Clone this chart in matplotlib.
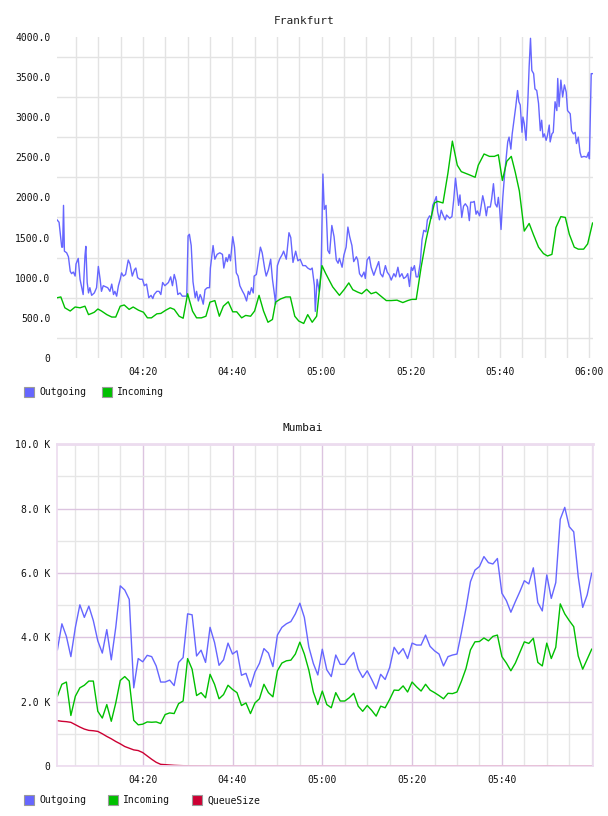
import matplotlib
matplotlib.use('Agg')
import matplotlib.pyplot as plt
import matplotlib.dates as mdates
from matplotlib.patches import Rectangle
from matplotlib.ticker import FixedLocator, FuncFormatter
import pandas as pd

# Frankfurt, minutes after 04:00
fra_out_min = [0.75, 1.2, 1.8, 2.0, 2.2, 2.4, 2.9, 3.3, 3.7, 4.0, 4.4, 4.8, 5.0, 5.5, 5.9, 6.3, 6.6, 7.0, 7.2, 7.5,
               7.8, 8.1, 8.5, 9.1, 9.6, 10.0, 10.4, 10.7, 11.1, 11.5, 12.1, 12.6, 13.0, 13.4, 13.7, 14.1, 14.5, 14.9, 15.2, 15.6,
               16.1, 16.7, 17.1, 17.6, 18.1, 18.4, 18.8, 19.3, 19.9, 20.3, 20.8, 21.3, 21.8, 22.2, 22.5, 23.1, 23.6, 24.0, 24.4, 24.9,
               25.3, 25.7, 26.2, 26.6, 27.0, 27.4, 27.8, 28.3, 28.8, 29.4, 29.8, 30.1, 30.4, 30.8, 31.2, 31.7, 32.0, 32.4, 32.8, 33.1,
               33.5, 33.9, 34.4, 34.9, 35.1, 35.7, 36.1, 36.6, 37.2, 37.8, 38.1, 38.6, 38.9, 39.3, 39.6, 40.1, 40.5, 40.9, 41.3, 41.7,
               42.3, 42.7, 43.2, 43.6, 43.9, 44.3, 44.7, 44.9, 45.4, 45.8, 46.3, 46.7, 47.3, 47.6, 48.1, 48.6, 49.0, 49.5, 49.7, 50.1,
               50.6, 51.2, 51.5, 52.1, 52.7, 53.1, 53.6, 54.2, 54.7, 55.2, 55.8, 56.4, 56.9, 57.5, 57.9, 58.4, 58.6, 59.0, 59.5, 59.9,
               60.3, 60.6, 61.0, 61.4, 61.8, 62.3, 62.8, 63.3, 63.7, 64.0, 64.6, 65.0, 65.5, 65.9, 66.3, 66.8, 67.2, 67.8, 68.1, 68.5,
               69.0, 69.5, 69.8, 70.2, 70.7, 71.1, 71.7, 72.2, 72.8, 73.2, 73.7, 74.3, 74.7, 75.2, 75.6, 76.2, 76.6, 77.1, 77.5, 78.0,
               78.4, 78.9, 79.3, 79.7, 80.1, 80.4, 80.8, 81.2, 81.6, 82.1, 82.5, 82.9, 83.4, 83.7, 84.2, 84.6, 84.9, 85.3, 85.7, 86.0,
               86.4, 86.8, 87.2, 87.7, 88.0, 88.7, 89.2, 89.6, 90.0, 90.4, 90.7, 91.0, 91.4, 91.8, 92.2, 92.7, 93.1, 93.4, 93.9, 94.2,
               94.6, 94.9, 95.4, 95.7, 96.1, 96.5, 96.9, 97.2, 97.8, 98.1, 98.5, 98.9, 99.3, 99.6, 99.9, 100.2, 100.6, 101.0, 101.3, 101.7,
               102.0, 102.4, 102.7, 103.1, 103.5, 103.9, 104.2, 104.5, 104.9, 105.1, 105.4, 105.8, 106.2, 106.5, 106.8, 107.1, 107.5, 107.8, 108.2, 108.6,
               109.0, 109.3, 109.6, 109.9, 110.3, 110.6, 111.0, 111.2, 111.6, 111.9, 112.3, 112.7, 112.9, 113.2, 113.6, 114.0, 114.4, 114.8, 115.1, 115.7,
               116.0, 116.4, 116.8, 117.1, 117.5, 117.9, 118.2, 118.8, 119.4, 119.8, 120.0, 120.4, 120.7]
fra_outgoing = [1720, 1690, 1380, 1380, 1900, 1330, 1310, 1260, 1080, 1050, 1070, 1020, 1170, 1240, 980, 875, 790, 1270, 1390, 940,
                810, 875, 780, 810, 875, 1140, 980, 830, 900, 890, 875, 830, 920, 790, 830, 770, 900, 980, 1060, 1020,
                1040, 1220, 1170, 1020, 1100, 1120, 1000, 980, 980, 900, 920, 750, 780, 740, 790, 830, 830, 790, 940, 900,
                920, 940, 1010, 900, 1040, 960, 790, 810, 770, 770, 770, 1520, 1540, 1400, 950, 750, 830, 710, 790, 750,
                670, 850, 875, 875, 1120, 1400, 1230, 1290, 1310, 1290, 1120, 1250, 1200, 1290, 1210, 1510, 1380, 1060, 1020, 900,
                830, 790, 710, 830, 790, 875, 810, 1020, 1040, 1190, 1380, 1310, 1100, 1020, 1100, 1230, 980, 770, 670, 1150,
                1230, 1290, 1330, 1230, 1560, 1500, 1190, 1330, 1210, 1230, 1150, 1150, 1120, 1100, 1120, 900, 580, 980, 830, 1100,
                2290, 1850, 1900, 1340, 1300, 1650, 1510, 1220, 1180, 1240, 1130, 1280, 1380, 1630, 1510, 1400, 1200, 1260, 1220, 1050,
                1010, 1070, 990, 1220, 1260, 1130, 1030, 1110, 1200, 1050, 1010, 1150, 1070, 1030, 970, 1050, 1010, 1130, 1010, 1050,
                990, 1010, 1050, 890, 1130, 1090, 1150, 1010, 1010, 1180, 1470, 1590, 1570, 1720, 1770, 1740, 1900, 1950, 2010, 1820,
                1720, 1840, 1780, 1720, 1780, 1740, 1760, 1970, 2240, 2050, 1900, 2030, 1750, 1890, 1920, 1880, 1710, 1940, 1940, 1950,
                1790, 1830, 1770, 1880, 2020, 1920, 1770, 1880, 1880, 1980, 2170, 1920, 1880, 2000, 1850, 1600, 2000, 2290, 2460, 2690,
                2750, 2600, 2790, 2960, 3130, 3330, 3190, 3150, 2810, 3000, 2920, 2710, 3190, 3630, 3980, 3580, 3540, 3350, 3330, 3170,
                2830, 2960, 2750, 2790, 2710, 2770, 2900, 2690, 2790, 2810, 3190, 3080, 3480, 3130, 3460, 3250, 3400, 3310, 3080, 3040,
                2830, 2790, 2810, 2670, 2750, 2560, 2500, 2510, 2500, 2560, 2480, 3540, 3540]

fra_in_min = [0.75, 1.6, 2.5, 3.7, 4.8, 5.9, 7.0, 7.8, 8.5, 9.1, 9.9, 10.7, 11.9, 13.0, 13.9, 14.9, 15.8, 16.9, 17.8, 19.0,
              20.1, 21.0, 21.9, 23.1, 24.0, 25.1, 26.1, 27.0, 28.1, 29.0, 30.0, 30.5, 31.1, 32.0, 33.1, 34.1, 35.0, 36.1, 37.1, 38.0,
              39.1, 40.1, 41.0, 42.1, 43.0, 44.1, 45.0, 46.0, 47.0, 48.0, 49.0, 49.7, 50.8, 52.0, 53.0, 54.0, 54.9, 56.0, 56.9, 57.9,
              58.9, 60.1, 60.9, 61.6, 62.5, 64.0, 65.1, 66.1, 67.0, 68.1, 69.0, 70.1, 71.1, 72.2, 73.4, 74.5, 75.6, 76.9, 78.2, 79.3,
              80.2, 81.2, 82.3, 83.4, 84.4, 85.3, 86.0, 87.2, 88.3, 89.3, 90.4, 91.3, 92.9, 94.4, 95.1, 96.4, 97.6, 98.7, 99.6, 100.5,
              101.5, 102.5, 103.4, 104.3, 104.9, 105.4, 106.5, 107.5, 108.6, 109.7, 110.6, 111.6, 112.5, 113.6, 114.6, 115.5, 116.6, 117.5, 118.7, 119.6,
              120.7]
fra_incoming = [750, 760, 625, 585, 635, 625, 645, 540, 555, 570, 610, 585, 540, 510, 510, 645, 660, 605, 635, 595,
                570, 500, 500, 550, 555, 595, 625, 605, 520, 495, 800, 700, 583, 500, 500, 520, 695, 715, 520, 645,
                700, 575, 575, 500, 530, 520, 585, 780, 585, 445, 480, 695, 735, 760, 760, 520, 460, 430, 540, 445,
                520, 1150, 1055, 980, 885, 780, 855, 935, 850, 820, 800, 855, 800, 820, 765, 715, 715, 720, 690, 715,
                730, 730, 1130, 1470, 1720, 1930, 1950, 1930, 2300, 2700, 2400, 2320, 2285, 2250, 2400, 2540, 2510, 2510, 2530, 2210,
                2450, 2510, 2310, 2080, 1810, 1580, 1675, 1530, 1380, 1300, 1270, 1290, 1625, 1760, 1750, 1540, 1380, 1355, 1355, 1420,
                1680]

# Mumbai, one sample per minute from 04:01
mum_outgoing = [3610, 4420, 4030, 3400, 4310, 5010, 4620, 4970, 4520, 3890, 3510, 4240, 3300, 4310, 5600, 5470, 5180, 2430, 3340, 3240,
                3440, 3400, 3110, 2610, 2610, 2670, 2500, 3220, 3370, 4730, 4700, 3420, 3600, 3220, 4310, 3840, 3130, 3300, 3820, 3480,
                3580, 2820, 2880, 2460, 2920, 3190, 3650, 3510, 3090, 4070, 4310, 4420, 4490, 4730, 5060, 4620, 3700, 3190, 2830, 3630,
                2990, 2780, 3450, 3160, 3160, 3370, 3530, 3010, 2750, 2960, 2690, 2400, 2850, 2690, 3060, 3690, 3480, 3650, 3340, 3820,
                3760, 3760, 4070, 3720, 3580, 3480, 3110, 3400, 3450, 3480, 4160, 4900, 5730, 6090, 6200, 6510, 6320, 6280, 6450, 5370,
                5140, 4780, 5110, 5420, 5760, 5660, 6160, 5080, 4820, 5940, 5210, 5700, 7670, 8040, 7440, 7280, 5890, 4930, 5320, 5990]
mum_incoming = [2170, 2540, 2610, 1570, 2170, 2430, 2510, 2640, 2640, 1700, 1490, 1910, 1390, 1960, 2660, 2780, 2640, 1420, 1280, 1300,
                1370, 1360, 1370, 1320, 1600, 1650, 1630, 1940, 2020, 3340, 3010, 2190, 2280, 2120, 2850, 2540, 2090, 2220, 2510, 2380,
                2280, 1880, 1960, 1630, 1960, 2090, 2540, 2280, 2150, 2960, 3200, 3270, 3290, 3480, 3850, 3480, 2980, 2300, 1910, 2330,
                1910, 1810, 2280, 2020, 2020, 2120, 2260, 1860, 1700, 1880, 1730, 1550, 1860, 1810, 2070, 2360, 2350, 2490, 2300, 2610,
                2460, 2330, 2540, 2360, 2280, 2190, 2090, 2260, 2250, 2300, 2640, 3030, 3610, 3860, 3870, 3980, 3890, 4030, 4070, 3400,
                3200, 2960, 3200, 3530, 3860, 3810, 3970, 3220, 3110, 3820, 3340, 3690, 5040, 4730, 4520, 4330, 3420, 3010, 3320, 3630]
mum_queue = [1409, 1389, 1378, 1357, 1284, 1211, 1148, 1107, 1096, 1075, 1002, 919, 846, 762, 689, 606, 553, 501, 480, 418,
             313, 209, 115, 52, 42, 31, 21, 15, 10, 8, 6, 5, 4, 3, 2, 2, 1, 1, 1, 0,
             0, 0, 0, 0, 0, 0, 0, 0, 0, 0, 0, 0, 0, 0, 0, 0, 0, 0, 0, 0,
             0, 0, 0, 0, 0, 0, 0, 0, 0, 0, 0, 0, 0, 0, 0, 0, 0, 0, 0, 0,
             0, 0, 0, 0, 0, 0, 0, 0, 0, 0, 0, 0, 0, 0, 0, 0, 0, 0, 0, 0,
             0, 0, 0, 0, 0, 0, 0, 0, 3, 5, 3, 0, 0, 0, 0, 0, 0, 0, 0, 0]

BLUE = '#6666ff'
GREEN = '#00c000'
RED = '#cc0033'
MONO = 'DejaVu Sans Mono'

base = pd.Timestamp('2000-01-01 04:00')


def at(minutes):
    return base + pd.to_timedelta(minutes, unit='min')


W, H = 608, 816
fig = plt.figure(figsize=(W / 100, H / 100), dpi=100)


def box(x0, y0, x1, y1):
    return [x0 / W, 1 - y1 / H, (x1 - x0) / W, (y1 - y0) / H]


def style_axis(ax):
    ax.tick_params(which='both', length=0, labelsize=7, colors='#111111')
    ax.tick_params(axis='y', pad=4.8)
    ax.tick_params(axis='x', pad=6.5)
    for lab in ax.get_xticklabels() + ax.get_yticklabels():
        lab.set_family(MONO)
    ax.xaxis.set_major_formatter(mdates.DateFormatter('%H:%M'))
    ax.xaxis.set_minor_locator(mdates.MinuteLocator(byminute=range(0, 60, 5)))
    ax.set_axisbelow(True)


def legend(y, items):
    for x, name, col in items:
        fig.add_artist(Rectangle((x / W, 1 - (y + 5) / H), 10 / W, 10 / H, transform=fig.transFigure,
                                 facecolor=col, edgecolor='#9a9a9a', lw=0.8))
        fig.text((x + 15) / W, 1 - y / H, name, family=MONO, fontsize=7, va='center', ha='left', color='#111111')


# ---- Frankfurt
ax1 = fig.add_axes(box(57, 36.7, 593, 358))
ax1.plot(at(fra_out_min), fra_outgoing, color=BLUE, lw=1.0)
ax1.plot(at(fra_in_min), fra_incoming, color=GREEN, lw=1.0)
ax1.set_xlim(at(0.74), at(120.8))
ax1.set_ylim(0, 4000)
ax1.xaxis.set_major_locator(mdates.MinuteLocator(byminute=[0, 20, 40]))
ax1.yaxis.set_major_locator(FixedLocator(range(0, 4001, 500)))
ax1.yaxis.set_minor_locator(FixedLocator(range(250, 4000, 500)))
ax1.yaxis.set_major_formatter(FuncFormatter(lambda v, p: '0' if v == 0 else f'{v:.1f}'))
style_axis(ax1)
ax1.grid(True, axis='x', which='both', color='#e3e3e3', lw=1.0)
ax1.grid(True, axis='y', which='minor', color='#e3e3e3', lw=1.0)
for s in ax1.spines.values():
    s.set_visible(False)
fig.text(304 / W, 1 - 20.7 / H, 'Frankfurt', family=MONO, fontsize=8, ha='center', va='center', color='#222222')
legend(392, [(24.3, 'Outgoing', BLUE), (101.7, 'Incoming', GREEN)])

# ---- Mumbai
ax2 = fig.add_axes(box(57, 444.3, 593.3, 766))
mum_times = pd.date_range('2000-01-01 04:01', periods=len(mum_outgoing), freq='min')
ax2.plot(mum_times, mum_outgoing, color=BLUE, lw=1.0)
ax2.plot(mum_times, mum_incoming, color=GREEN, lw=1.0)
ax2.plot(mum_times, mum_queue, color=RED, lw=1.0)
ax2.set_xlim(at(0.91), at(120.36))
ax2.set_ylim(0, 10000)
ax2.xaxis.set_major_locator(FixedLocator(mdates.date2num([at(m) for m in (20, 40, 60, 80, 100)])))
ax2.yaxis.set_major_locator(FixedLocator(range(0, 10001, 2000)))
ax2.yaxis.set_minor_locator(FixedLocator(range(1000, 10000, 2000)))
ax2.yaxis.set_major_formatter(FuncFormatter(lambda v, p: '0' if v == 0 else f'{v / 1000:.1f} K'))
style_axis(ax2)
ax2.grid(True, which='minor', color='#e6e6e6', lw=1.0)
ax2.grid(True, which='major', color='#dcc4e0', lw=1.0)
for s in ax2.spines.values():
    s.set_color('#ecdcef')
    s.set_linewidth(1.2)
ax2.spines['top'].set_linewidth(2)
fig.text(303 / W, 1 - 428.3 / H, 'Mumbai', family=MONO, fontsize=8, ha='center', va='center', color='#111111')
legend(800.3, [(24.3, 'Outgoing', BLUE), (108.3, 'Incoming', GREEN), (192.3, 'QueueSize', RED)])

fig.savefig('out.png', dpi=100, facecolor='white')
